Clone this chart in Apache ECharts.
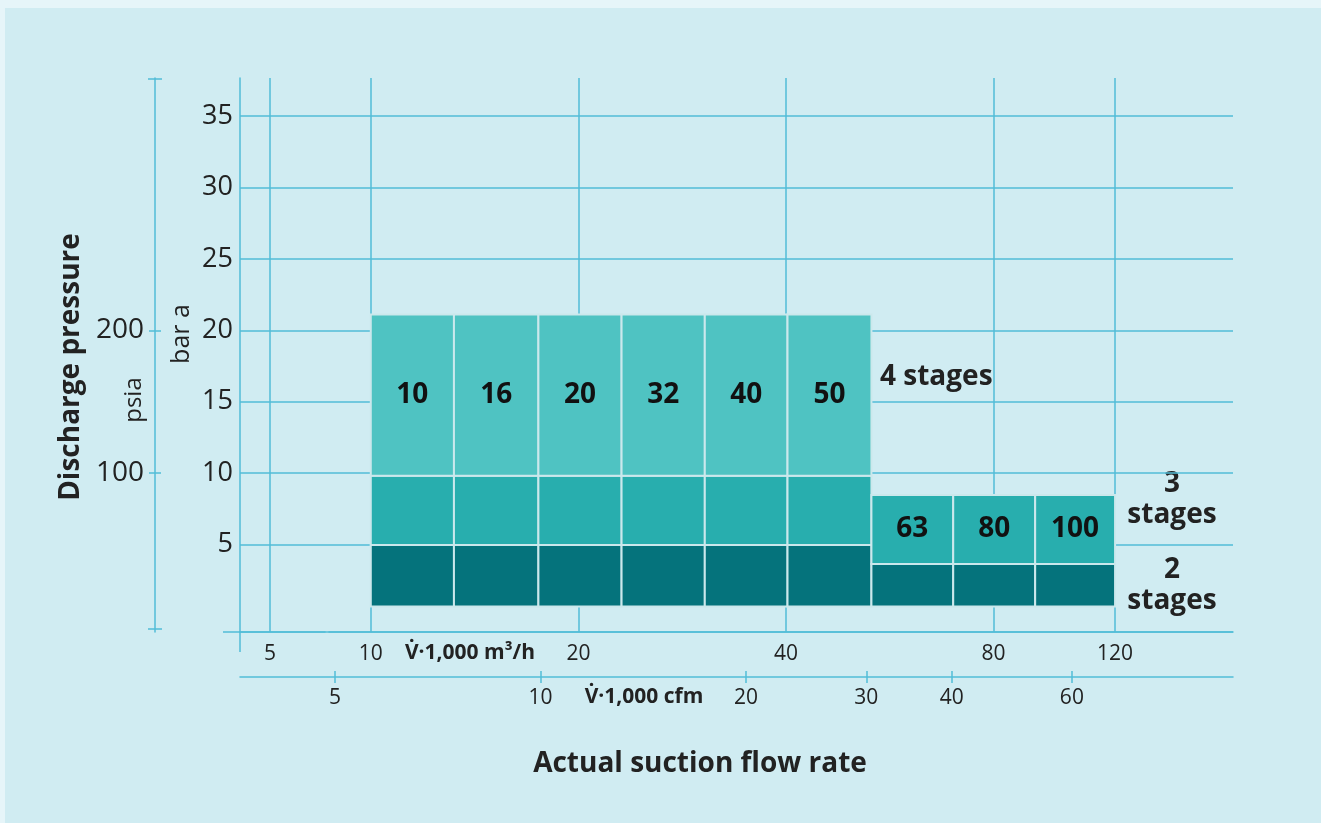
<!DOCTYPE html>
<html><head><meta charset="utf-8">
<script src="https://cdn.jsdelivr.net/npm/echarts@6/dist/echarts.min.js"></script>
<style>html,body{margin:0;padding:0;background:#e6f5f9;}#c{width:1321px;height:823px;}</style>
</head><body><div id="c"></div>
<script>
// ---- data ----
const frames = ['10','16','20','32','40','50','63','80','100'];           // frame sizes
const frameEdges = [10, 13.2, 17.5, 23.1, 30.5, 40.2, 53.2, 69.9, 91.9, 120]; // V·1,000 m3/h
const suctionLevel = [0.65,0.65,0.65,0.65,0.65,0.65,0.65,0.65,0.65];     // bar a
const stage2Top = [4.95,4.95,4.95,4.95,4.95,4.95,3.62,3.62,3.62];        // bar a
const stage3Top = [9.8,9.8,9.8,9.8,9.8,9.8,8.46,8.46,8.46];              // bar a
const stage4Top = [21.1,21.1,21.1,21.1,21.1,21.1,null,null,null];        // bar a
const barTicks = [5,10,15,20,25,30,35];
const psiaTicks = [100,200];
const m3hTicks = [5,10,20,40,80,120];
const cfmTicks = [5,10,20,30,40,60];
const m3hBreak = [6, 8.7];   // the reference's m3/h scale is compressed between 5 and 10
const stageNames = ['2 stages','3 stages','4 stages'];

const stageColors = ['#05737c','#28aeae','#4fc3c2'];
const lineColor = '#52bdd7';
const textColor = '#222';
const FONT = '"Open Sans", "Noto Sans", sans-serif';

const boxes = [];
for (let i = 0; i < frames.length; i++) {
  const levels = [suctionLevel[i], stage2Top[i], stage3Top[i], stage4Top[i]];
  let topIdx = 0;
  for (let s = 0; s < 3; s++) if (levels[s+1] != null) topIdx = s;
  for (let s = 0; s < 3; s++) {
    if (levels[s+1] == null) continue;
    boxes.push([frameEdges[i], frameEdges[i+1], levels[s], levels[s+1], s, s === topIdx ? 1 : 0, i]);
  }
}

const chart = echarts.init(document.getElementById('c'), null, {renderer: 'canvas'});

function renderItem(params, api) {
  const p0 = api.coord([api.value(0), api.value(3)]);
  const p1 = api.coord([api.value(1), api.value(2)]);
  const s = api.value(4), lab = api.value(5), idx = api.value(6);
  const el = {
    type: 'rect',
    shape: {x: p0[0], y: p0[1], width: p1[0] - p0[0], height: p1[1] - p0[1]},
    style: {fill: stageColors[s], stroke: '#cbe8ec', lineWidth: 2}
  };
  if (lab) {
    el.textContent = {style: {text: frames[idx], font: 'bold 28px ' + FONT, fill: '#111'}};
    el.textConfig = {position: 'inside'};
  }
  return el;
}

const axisLineStyle = {color: lineColor, width: 1.5};

const option = {
  backgroundColor: '#e6f5f9',
  animation: false,
  textStyle: {fontFamily: FONT},
  grid: {left: 240, right: 88, top: 78, bottom: 191, containLabel: false, outerBoundsMode: 'none'},
  xAxis: [
    { type: 'log', min: 4.525, max: 177.9, position: 'bottom',
      breaks: [{start: m3hBreak[0], end: m3hBreak[1], gap: '0.46%'}],
      breakArea: {show: false, expandOnClick: false, itemStyle: {opacity: 0}},
      axisLine: {show: true, onZero: false, lineStyle: axisLineStyle},
      axisTick: {show: false, customValues: m3hTicks},
      axisLabel: {customValues: m3hTicks, color: textColor, fontSize: 21, margin: 12, fontFamily: FONT},
      splitLine: {show: true, lineStyle: {color: lineColor, width: 1.5}},
      minorTick: {show: false}, minorSplitLine: {show: false} },
    { type: 'log', min: 3.63, max: 103.3, position: 'bottom', offset: 45,
      axisLine: {show: true, onZero: false, lineStyle: axisLineStyle},
      axisTick: {show: true, length: 6, customValues: cfmTicks, lineStyle: {color: lineColor, width: 1.5}},
      axisLabel: {customValues: cfmTicks, color: textColor, fontSize: 21, margin: 11, fontFamily: FONT},
      splitLine: {show: false} },
    { type: 'log', min: 3.63, max: 103.3, position: 'bottom', offset: 45,
      axisLine: {show: false, onZero: false},
      axisTick: {show: true, inside: true, length: 6, customValues: cfmTicks, lineStyle: {color: lineColor, width: 1.5}},
      axisLabel: {show: false},
      splitLine: {show: false} }
  ],
  yAxis: [
    { type: 'value', min: -1.142, max: 37.68, position: 'left',
      axisLine: {show: true, onZero: false, lineStyle: axisLineStyle},
      axisTick: {show: false, customValues: barTicks},
      axisLabel: {customValues: barTicks, color: textColor, fontSize: 27, margin: 7, fontFamily: FONT},
      splitLine: {show: true, lineStyle: {color: lineColor, width: 1.5}} },
    { type: 'value', min: -11.42, max: 376.8, position: 'left', offset: 85,
      axisLine: {show: true, onZero: false, lineStyle: axisLineStyle},
      axisTick: {show: true, length: 6, customValues: psiaTicks, lineStyle: {color: lineColor, width: 1.5}},
      axisLabel: {customValues: psiaTicks, color: textColor, fontSize: 28, margin: 11, fontFamily: FONT},
      splitLine: {show: false} },
    { type: 'value', min: -11.42, max: 376.8, position: 'left', offset: 85,
      axisLine: {show: false, onZero: false},
      axisTick: {show: true, inside: true, length: 6, customValues: psiaTicks, lineStyle: {color: lineColor, width: 1.5}},
      axisLabel: {show: false},
      splitLine: {show: false} }
  ],
  series: [{
    type: 'custom', name: 'stages', xAxisIndex: 0, yAxisIndex: 0,
    renderItem: renderItem,
    encode: {x: [0, 1], y: [2, 3]},
    data: boxes, z: 5, silent: true
  }],
  graphic: [
    {type: 'rect', z: -100, silent: true, shape: {x: 5, y: 8, width: 1316, height: 815}, style: {fill: '#d0ecf2'}},
    {type: 'line', silent: true, shape: {x1: 223, y1: 632, x2: 1233, y2: 632}, style: {stroke: lineColor, lineWidth: 1.5}},
    {type: 'line', silent: true, shape: {x1: 240, y1: 632, x2: 240, y2: 652}, style: {stroke: lineColor, lineWidth: 1.5}},
    {type: 'line', silent: true, shape: {x1: 148, y1: 79, x2: 162, y2: 79}, style: {stroke: lineColor, lineWidth: 1.5}},
    {type: 'line', silent: true, shape: {x1: 148, y1: 629, x2: 162, y2: 629}, style: {stroke: lineColor, lineWidth: 1.5}},
    {type: 'text', silent: true, x: 71, y: 367, rotation: Math.PI / 2,
      style: {text: 'Discharge pressure', font: 'bold 28px ' + FONT, fill: textColor, textAlign: 'center', textVerticalAlign: 'middle'}},
    {type: 'text', silent: true, x: 134, y: 400, rotation: Math.PI / 2,
      style: {text: 'psia', font: '24px ' + FONT, fill: textColor, textAlign: 'center', textVerticalAlign: 'middle'}},
    {type: 'text', silent: true, x: 182, y: 334, rotation: Math.PI / 2,
      style: {text: 'bar a', font: '25px ' + FONT, fill: textColor, textAlign: 'center', textVerticalAlign: 'middle'}},
    {type: 'text', silent: true, x: 470, y: 653,
      style: {text: 'V\u0307\u00b71,000 m\u00b3/h', font: 'bold 21px ' + FONT, fill: textColor, textAlign: 'center', textVerticalAlign: 'middle'}},
    {type: 'text', silent: true, x: 644, y: 697,
      style: {text: 'V\u0307\u00b71,000 cfm', font: 'bold 21px ' + FONT, fill: textColor, textAlign: 'center', textVerticalAlign: 'middle'}},
    {type: 'text', silent: true, x: 880, y: 377,
      style: {text: stageNames[2], font: 'bold 28px ' + FONT, fill: textColor, textAlign: 'left', textVerticalAlign: 'middle'}},
    {type: 'text', silent: true, x: 1172, y: 500,
      style: {text: '3\nstages', font: 'bold 28px ' + FONT, lineHeight: 31, fill: textColor, textAlign: 'center', textVerticalAlign: 'middle'}},
    {type: 'text', silent: true, x: 1172, y: 586,
      style: {text: '2\nstages', font: 'bold 28px ' + FONT, lineHeight: 31, fill: textColor, textAlign: 'center', textVerticalAlign: 'middle'}},
    {type: 'text', silent: true, x: 700, y: 764,
      style: {text: 'Actual suction flow rate', font: 'bold 28px ' + FONT, fill: textColor, textAlign: 'center', textVerticalAlign: 'middle'}}
  ]
};
chart.setOption(option);
</script></body></html>
